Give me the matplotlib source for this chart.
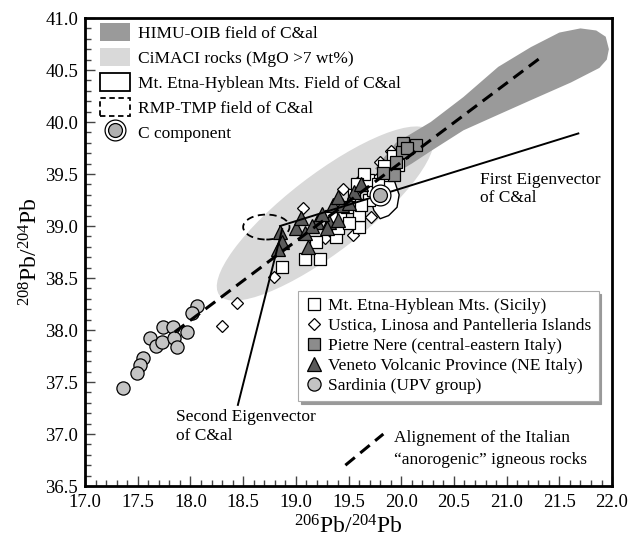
import numpy as np
import matplotlib.pyplot as plt
from matplotlib.patches import Ellipse, Polygon, Patch
from matplotlib.lines import Line2D
from matplotlib.legend_handler import HandlerTuple
from matplotlib.ticker import MultipleLocator

plt.rcParams['font.family'] = ['Liberation Serif', 'DejaVu Serif']
plt.rcParams['mathtext.fontset'] = 'custom'
plt.rcParams['mathtext.rm'] = 'Liberation Serif'
plt.rcParams['mathtext.it'] = 'Liberation Serif:italic'

# Mt. Etna-Hyblean Mts. (Sicily)
etna_x = [18.87, 19.09, 19.23, 19.19, 19.38, 19.40, 19.60, 19.60, 19.42, 19.49,
          19.69, 19.73, 19.68, 19.87, 19.97, 19.55, 19.78, 19.92, 19.65, 19.50,
          19.33, 19.58, 19.84, 19.62]
etna_y = [38.61, 38.68, 38.68, 38.85, 38.89, 38.98, 38.99, 39.11, 39.08, 39.18,
          39.25, 39.35, 39.44, 39.49, 39.59, 39.30, 39.40, 39.67, 39.50, 39.03,
          39.10, 39.40, 39.58, 39.20]
# Ustica, Linosa and Pantelleria
ust_x = [19.80, 19.45, 19.07, 19.28, 19.54, 18.79, 18.44, 18.30, 19.71, 19.62, 19.90]
ust_y = [39.62, 39.36, 39.17, 38.88, 38.91, 38.51, 38.26, 38.04, 39.09, 39.45, 39.72]
# Pietre Nere
pn_x = [20.02, 20.14, 20.01, 19.93, 19.83, 20.05, 19.95]
pn_y = [39.80, 39.78, 39.71, 39.49, 39.51, 39.75, 39.62]
# Veneto Volcanic Province
ven_x = [18.85, 18.87, 18.83, 19.00, 19.09, 19.20, 19.31, 19.40, 19.12, 19.35,
         19.44, 19.40, 19.55, 19.25, 19.50, 19.05, 19.62, 19.15, 19.30]
ven_y = [38.94, 38.85, 38.78, 38.98, 38.93, 39.04, 39.04, 39.06, 38.80, 39.20,
         39.20, 39.28, 39.33, 39.12, 39.22, 39.08, 39.40, 39.00, 38.98]
# Sardinia (UPV group)
sard_x = [18.06, 18.01, 17.74, 17.83, 17.62, 17.67, 17.73, 17.84, 17.87, 17.97,
          17.55, 17.52, 17.49, 17.36]
sard_y = [38.23, 38.16, 38.03, 38.03, 37.92, 37.85, 37.88, 37.92, 37.84, 37.98,
          37.73, 37.66, 37.59, 37.44]
# C component
c_comp = (19.80, 39.30)

# fields
himu_x = [19.75, 19.95, 20.28, 20.59, 20.92, 21.23, 21.50, 21.70, 21.85, 21.94,
          21.97, 21.95, 21.88, 21.61, 21.23, 20.92, 20.59, 20.28, 20.10, 19.90]
himu_y = [39.55, 39.80, 40.00, 40.24, 40.53, 40.72, 40.86, 40.90, 40.88, 40.82,
          40.70, 40.60, 40.52, 40.38, 40.21, 40.07, 39.92, 39.72, 39.60, 39.48]
etnaf_x = [19.70, 19.80, 19.93, 19.98, 19.96, 19.88, 19.80, 19.74, 19.70]
etnaf_y = [39.45, 39.52, 39.45, 39.30, 39.18, 39.10, 39.07, 39.15, 39.30]
cimaci = dict(xy=(19.28, 39.12), width=2.55, height=0.74, angle=38)
rmp = dict(xy=(18.72, 38.99), width=0.44, height=0.24)

# lines
align_x = [17.85, 21.35]
align_y = [37.98, 40.64]
eig1_x = [18.85, 21.68]
eig1_y = [39.00, 39.89]
eig2_x = [18.87, 18.45]
eig2_y = [38.97, 37.28]
key_x = [19.47, 19.83]
key_y = [36.70, 37.00]

fig = plt.figure(figsize=(6.3, 5.39), dpi=100)
ax = fig.add_axes([0.135, 0.0983, 0.8365, 0.8683])

ax.add_patch(Ellipse(**cimaci, facecolor='#d9d9d9', edgecolor='none', zorder=1))
ax.add_patch(Polygon(np.column_stack([himu_x, himu_y]), closed=True,
                     facecolor='#9a9a9a', edgecolor='none', zorder=2))
ax.add_patch(Polygon(np.column_stack([etnaf_x, etnaf_y]), closed=True,
                     facecolor='white', edgecolor='black', lw=1.0,
                     joinstyle='round', zorder=3))
ax.add_patch(Ellipse(**rmp, facecolor='none', edgecolor='black', lw=1.3,
                     linestyle=(0, (4, 2.5)), zorder=3))

mk = dict(markeredgecolor='black', markeredgewidth=0.9, linestyle='none')
ax.plot(sard_x, sard_y, 'o', ms=9.5, color='#c4c4c4', zorder=4, **mk)
ax.plot(ust_x, ust_y, 'D', ms=6.2, color='white', zorder=4, **mk)
ax.plot(etna_x, etna_y, 's', ms=9, color='white', zorder=5, **mk)
ax.plot(pn_x, pn_y, 's', ms=9, color='#8c8c8c', zorder=5, **mk)
ax.plot(ven_x, ven_y, '^', ms=9.5, color='#5a5a5a', zorder=6, **mk)

ax.plot(align_x, align_y, color='black', lw=2.2, dashes=(4, 2.3), zorder=7)
ax.plot(key_x, key_y, color='black', lw=2.2, dashes=(4, 2.3), zorder=7)
ax.plot(eig1_x, eig1_y, color='black', lw=1.4, zorder=7)
ax.plot(eig2_x, eig2_y, color='black', lw=1.4, zorder=7)

ax.plot(*c_comp, 'o', ms=15, color='white', zorder=8, **mk)
ax.plot(*c_comp, 'o', ms=10, color='#b0b0b0', zorder=9, **mk)

fs = 12.5
ax.text(20.75, 39.44, 'First Eigenvector', fontsize=fs, va='center')
ax.text(20.75, 39.27, 'of C&al', fontsize=fs, va='center')
ax.text(17.86, 37.16, 'Second Eigenvector', fontsize=fs, va='center')
ax.text(17.86, 36.98, 'of C&al', fontsize=fs, va='center')
ax.text(19.93, 36.96, 'Alignement of the Italian', fontsize=fs, va='center')
ax.text(19.93, 36.75, '\u201canorogenic\u201d igneous rocks', fontsize=fs, va='center')

ax.set_xlim(17.0, 22.0)
ax.set_ylim(36.5, 41.0)
ax.xaxis.set_major_locator(MultipleLocator(0.5))
ax.xaxis.set_minor_locator(MultipleLocator(0.1))
ax.yaxis.set_major_locator(MultipleLocator(0.5))
ax.yaxis.set_minor_locator(MultipleLocator(0.1))
ax.xaxis.set_major_formatter('{x:.1f}')
ax.yaxis.set_major_formatter('{x:.1f}')
ax.tick_params(which='both', direction='in', top=False, right=False,
               labelsize=13.5, width=1.0, color='#444444')
ax.tick_params(which='major', length=7, pad=5)
ax.tick_params(which='minor', length=4.5)
ax.tick_params(axis='x', which='major', pad=6)
for sp in ax.spines.values():
    sp.set_linewidth(2.0)

ax.set_xlabel(r'$^{\mathrm{206}}$Pb/$^{\mathrm{204}}$Pb', fontsize=17, labelpad=3)
ax.set_ylabel(r'$^{\mathrm{208}}$Pb/$^{\mathrm{204}}$Pb', fontsize=17, labelpad=2)

# field legend (top left)
h1 = [Patch(facecolor='#9a9a9a', edgecolor='none'),
      Patch(facecolor='#d9d9d9', edgecolor='none'),
      Patch(facecolor='white', edgecolor='black', lw=1.3),
      Patch(facecolor='none', edgecolor='black', lw=1.3, linestyle=(0, (3, 2))),
      (Line2D([], [], marker='o', ms=15, color='white', **mk),
       Line2D([], [], marker='o', ms=10, color='#b0b0b0', **mk))]
l1 = ['HIMU-OIB field of C&al', 'CiMACI rocks (MgO >7 wt%)',
      'Mt. Etna-Hyblean Mts. Field of C&al', 'RMP-TMP field of C&al', 'C component']
leg1 = ax.legend(h1, l1, loc='upper left', bbox_to_anchor=(0.028, 0.99),
                 frameon=False, fontsize=fs, borderpad=0, borderaxespad=0,
                 handlelength=1.72, handleheight=1.26, labelspacing=0.34,
                 handletextpad=0.46,
                 handler_map={tuple: HandlerTuple(ndivide=1)})
ax.add_artist(leg1)

# sample legend (bottom right)
h2 = [Line2D([], [], marker='s', ms=9, color='white', **mk),
      Line2D([], [], marker='D', ms=6.2, color='white', **mk),
      Line2D([], [], marker='s', ms=9, color='#8c8c8c', **mk),
      Line2D([], [], marker='^', ms=9.5, color='#5a5a5a', **mk),
      Line2D([], [], marker='o', ms=9.5, color='#c4c4c4', **mk)]
l2 = ['Mt. Etna-Hyblean Mts. (Sicily)', 'Ustica, Linosa and Pantelleria Islands',
      'Pietre Nere (central-eastern Italy)', 'Veneto Volcanic Province (NE Italy)',
      'Sardinia (UPV group)']
leg2 = ax.legend(h2, l2, loc='upper left', bbox_to_anchor=(0.404, 0.4167),
                 fontsize=fs, fancybox=False, borderaxespad=0, borderpad=0.4,
                 handlelength=1.0, handletextpad=0.35, labelspacing=0.22,
                 framealpha=1, edgecolor='#aaaaaa',
                 shadow={'facecolor': '0.6', 'edgecolor': '0.6', 'alpha': 1})
leg2.get_frame().set_linewidth(0.8)
leg2.set_zorder(10)

fig.savefig('out.png', dpi=100)
